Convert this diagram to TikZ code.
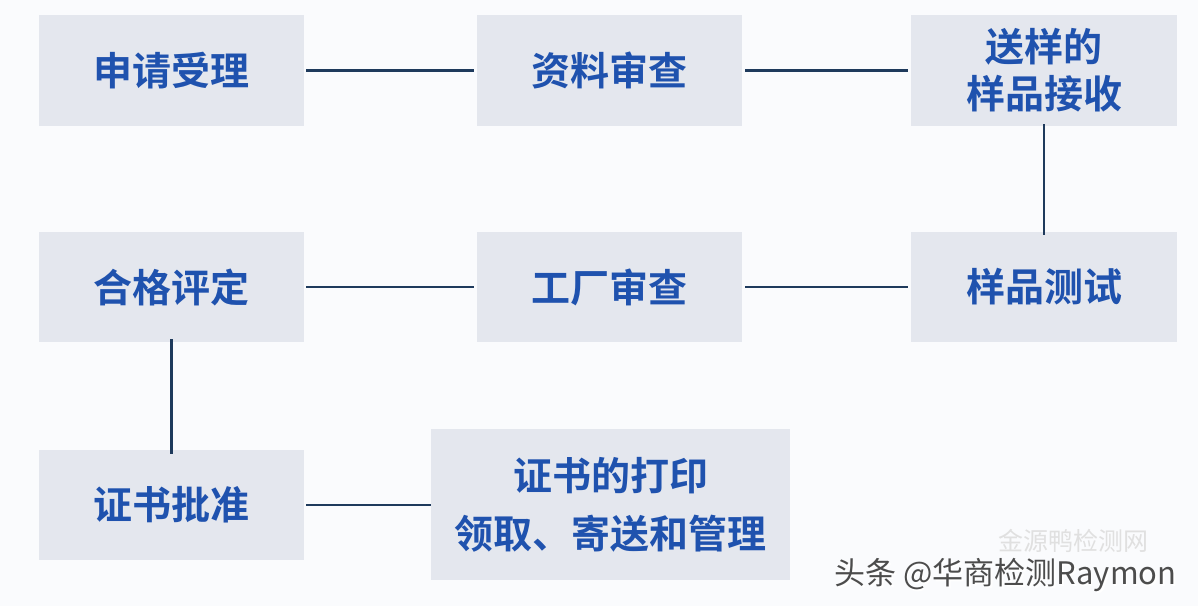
\documentclass[tikz,border=0pt]{standalone}
\usepackage{fontspec}
\newfontfamily\cjk{Noto Sans CJK SC Bold}
\newfontfamily\cjkr{Noto Sans CJK SC}
\definecolor{boxfill}{HTML}{E4E7EE}
\definecolor{txt}{HTML}{1F52AE}
\definecolor{lnk}{HTML}{1E3A5C}
\definecolor{bg}{HTML}{FAFBFD}
\begin{document}
\begin{tikzpicture}[x=1pt,y=-1pt,
  stepbox/.style={fill=boxfill,draw=none,inner sep=0pt,text=txt,font=\cjk\fontsize{39}{47}\selectfont,align=center},
  link/.style={draw=lnk,line width=2.6pt}]
\fill[bg] (0,0) rectangle (1198,606);
\useasboundingbox (0,0) rectangle (1198,606);
\node[stepbox,minimum width=265pt,minimum height=111pt] (a) at (171.5,70.5) {申请受理};
\node[stepbox,minimum width=265pt,minimum height=111pt] (b) at (609.5,70.5) {资料审查};
\node[stepbox,minimum width=266pt,minimum height=111pt] (c) at (1044,70.5) {送样的\\样品接收};
\node[stepbox,minimum width=265pt,minimum height=110pt] (d) at (171.5,287) {合格评定};
\node[stepbox,minimum width=265pt,minimum height=110pt] (e) at (609.5,287) {工厂审查};
\node[stepbox,minimum width=266pt,minimum height=110pt] (f) at (1044,287) {样品测试};
\node[stepbox,minimum width=265pt,minimum height=110pt] (g) at (171.5,505) {证书批准};
\node[stepbox,minimum width=359pt,minimum height=151pt,font=\cjk\fontsize{39}{58}\selectfont] (h) at (610.5,504.5) {证书的打印\\领取、寄送和管理};
\draw[link] ([xshift=2pt]a.east) -- ([xshift=-3pt]b.west);
\draw[link] ([xshift=3pt]b.east) -- ([xshift=-3pt]c.west);
\draw[link] ([yshift=2pt]c.south) -- ([yshift=-3pt]f.north);
\draw[link] ([xshift=3pt]e.east) -- ([xshift=-3pt]f.west);
\draw[link] ([xshift=2pt]d.east) -- ([xshift=-3pt]e.west);
\draw[link] ([yshift=3pt]d.south) -- ([yshift=-4pt]g.north);
\draw[link] ([xshift=2pt]g.east) -- (g.east -| h.west);
\node[text=black!12,font=\cjkr\fontsize{25}{28}\selectfont,anchor=west] (wm1) at (995,541) {金源鸭检测网};
\node[text=white,font=\cjkr\fontsize{31}{34}\selectfont,anchor=west] (wm0) at (832.5,576.5) {头条 @华商检测Raymon};
\node[text=black!70,font=\cjkr\fontsize{31}{34}\selectfont,anchor=west] (wm) at (831,575) {头条 @华商检测Raymon};
\end{tikzpicture}
\end{document}
